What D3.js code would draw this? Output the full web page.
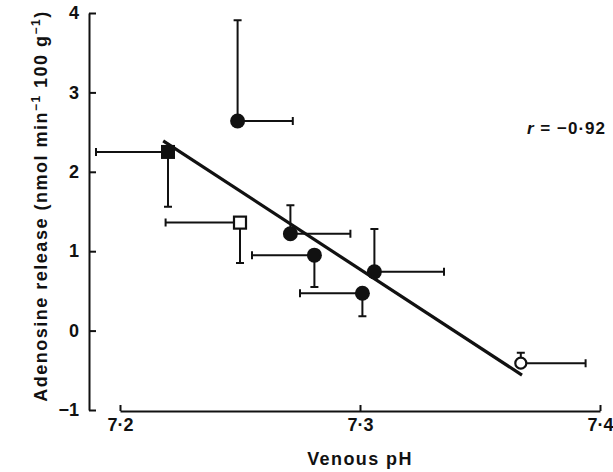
<!DOCTYPE html>
<html>
<head>
<meta charset="utf-8">
<script src="https://cdn.jsdelivr.net/npm/d3@7"></script>
<style>
  body { margin: 0; background: #fff; }
  text { font-family: "Liberation Sans", Arial, sans-serif; font-weight: bold; fill: #111; }
</style>
</head>
<body>
<div id="chart"></div>
<script>
// group means (venous pH vs adenosine release)
const ph = [7.22, 7.25, 7.249, 7.271, 7.281, 7.306, 7.301, 7.367]
const release = [2.25, 1.36, 2.64, 1.22, 0.95, 0.74, 0.47, -0.41]
const markers = ['filledSquare', 'openSquare', 'filledCircle', 'filledCircle', 'filledCircle', 'filledCircle', 'filledCircle', 'openCircle']
// one-sided error bars: far end of each bar
const phErrEnd = [7.19, 7.219, 7.272, 7.296, 7.255, 7.335, 7.275, 7.394]
const releaseErrEnd = [1.56, 0.85, 3.91, 1.58, 0.55, 1.28, 0.18, -0.28]
// regression line ends
const fitPh = [7.218, 7.3675]
const fitRelease = [2.39, -0.56]
const xTicks = [7.2, 7.3, 7.4]
const yTicks = [-1, 0, 1, 2, 3, 4]

const width = 613
const height = 472

const svg = d3.select('#chart').append('svg')
  .attr('width', width)
  .attr('height', height)

const x = d3.scaleLinear().domain([7.2, 7.4]).range([120, 600])
const y = d3.scaleLinear().domain([-1, 4]).range([410, 13])

const fmt = d => d3.format('.1f')(d).replace('.', '·')

// y axis, ticks pointing inward
const yAxis = svg.append('g')
  .attr('transform', 'translate(89,0)')
  .call(d3.axisLeft(y).tickValues(yTicks).tickSizeInner(-7).tickSizeOuter(0)
    .tickPadding(10).tickFormat(d => d < 0 ? '−' + Math.abs(d) : d))
yAxis.selectAll('text')
  .style('font-size', '18px')
  .style('font-family', '"Liberation Sans", Arial, sans-serif')

const xAxis = svg.append('g')
  .attr('transform', 'translate(0,411)')
  .call(d3.axisBottom(x).tickValues(xTicks).tickSizeInner(-6).tickSizeOuter(0)
    .tickPadding(7).tickFormat(fmt))
xAxis.selectAll('text')
  .style('font-size', '18px')
  .style('font-family', '"Liberation Sans", Arial, sans-serif')

svg.selectAll('.domain, .tick line').attr('stroke', '#111').attr('stroke-width', 2)

// axis titles
svg.append('text')
  .attr('x', x(7.3))
  .attr('y', 465)
  .attr('text-anchor', 'middle')
  .style('font-size', '18px')
  .style('letter-spacing', '1.4px')
  .text('Venous pH')

const yTitle = svg.append('text')
  .attr('transform', 'translate(47,' + y(1.57) + ') rotate(-90)')
  .attr('text-anchor', 'middle')
  .style('font-size', '18px')
  .style('letter-spacing', '1.5px')
yTitle.append('tspan').text('Adenosine release (nmol min')
yTitle.append('tspan').attr('dy', -7).style('font-size', '12px').text('−1')
yTitle.append('tspan').attr('dy', 7).text(' 100 g')
yTitle.append('tspan').attr('dy', -7).style('font-size', '12px').text('−1')
yTitle.append('tspan').attr('dy', 7).text(')')

// error bars
const idx = d3.range(ph.length)
const cap = 4

const bars = svg.append('g').attr('stroke', '#111').attr('stroke-width', 2)
bars.selectAll('.hbar').data(idx).enter().append('path')
  .attr('fill', 'none')
  .attr('d', i => {
    const y0 = y(release[i])
    const x1 = x(phErrEnd[i])
    return `M${x(ph[i])},${y0}H${x1}M${x1},${y0 - cap}V${y0 + cap}`
  })
bars.selectAll('.vbar').data(idx).enter().append('path')
  .attr('fill', 'none')
  .attr('d', i => {
    const x0 = x(ph[i])
    const y1 = y(releaseErrEnd[i])
    return `M${x0},${y(release[i])}V${y1}M${x0 - cap},${y1}H${x0 + cap}`
  })

// markers
const pts = svg.append('g')
idx.forEach(i => {
  const cx = x(ph[i])
  const cy = y(release[i])
  const m = markers[i]
  if (m === 'filledCircle') {
    pts.append('circle').attr('cx', cx).attr('cy', cy).attr('r', 7.5).attr('fill', '#111')
  } else if (m === 'openCircle') {
    pts.append('circle').attr('cx', cx).attr('cy', cy).attr('r', 5.5)
      .attr('fill', '#fff').attr('stroke', '#111').attr('stroke-width', 2.2)
  } else if (m === 'filledSquare') {
    pts.append('rect').attr('x', cx - 7).attr('y', cy - 7).attr('width', 14).attr('height', 14)
      .attr('fill', '#111')
  } else {
    pts.append('rect').attr('x', cx - 6).attr('y', cy - 6).attr('width', 12).attr('height', 12)
      .attr('fill', '#fff').attr('stroke', '#111').attr('stroke-width', 2.2)
  }
})

// regression line
svg.append('line')
  .attr('x1', x(fitPh[0])).attr('y1', y(fitRelease[0]))
  .attr('x2', x(fitPh[1])).attr('y2', y(fitRelease[1]))
  .attr('stroke', '#111')
  .attr('stroke-width', 3.2)

// correlation coefficient
const rText = svg.append('text')
  .attr('x', 527)
  .attr('y', 134)
  .style('font-size', '17px')
  .style('letter-spacing', '1px')
rText.append('tspan').attr('font-style', 'italic').text('r')
rText.append('tspan').text(' = −0·92')
</script>
</body>
</html>
